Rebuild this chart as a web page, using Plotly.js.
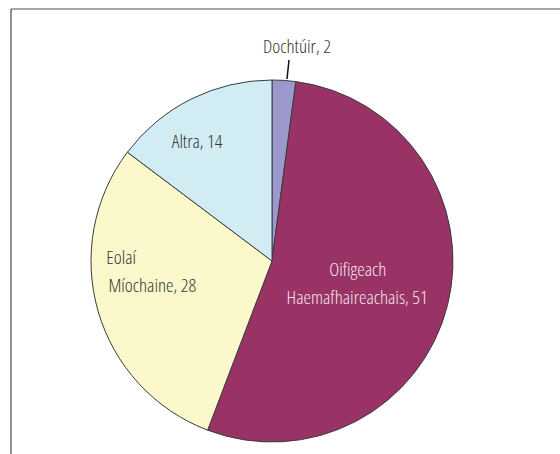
<!DOCTYPE html>
<html>
<head>
<meta charset="utf-8">
<script src="https://cdn.plot.ly/plotly-3.0.1.min.js"></script>
<style>
  html, body { margin: 0; padding: 0; background: #fff; }
  #chart { width: 560px; height: 454px; }
  /* condensed face, like the original print font */
  #chart text { font-stretch: condensed !important; }
</style>
</head>
<body>
<div id="chart"></div>
<script>
// values, clockwise from 12 o'clock
const labels = ['Dochtúir', 'Oifigeach Haemafhaireachais', 'Eolaí Míochaine', 'Altra'];
const values = [2, 51, 28, 14];
const colors = ['#9b98cc', '#993366', '#fbf8cc', '#d2ecf3'];

// label lines (the value goes after the last line)
const labelLines = [
  ['Dochtúir'],
  ['Oifigeach', 'Haemafhaireachais'],
  ['Eolaí', 'Míochaine'],
  ['Altra']
];

const W = 560, H = 454;
const px = x => x / W;
const py = y => 1 - y / H;

const font = 'Open Sans, sans-serif';

// where each line of a label is centred (pixel coords)
const labelSpots = [
  { x: [297], y: [46], color: '#363636' },
  { x: [357, 357], y: [269, 297], color: '#f3e3ea' },
  { x: [121, 152], y: [257, 285], color: '#363636' },
  { x: [197], y: [141], color: '#363636' }
];

const annotations = [];
labelLines.forEach((lines, i) => {
  const spot = labelSpots[i];
  lines.forEach((line, j) => {
    const last = j === lines.length - 1;
    annotations.push({
      xref: 'paper', yref: 'paper',
      x: px(spot.x[j]), y: py(spot.y[j]),
      xanchor: 'center', yanchor: 'middle',
      text: last ? line + ', ' + values[i] : line,
      showarrow: false,
      font: { family: font, size: 19, weight: 350, color: spot.color }
    });
  });
});

const trace = {
  type: 'pie',
  labels: labels,
  values: values,
  sort: false,
  direction: 'clockwise',
  rotation: 0,
  textinfo: 'none',
  hoverinfo: 'label+value',
  marker: { colors: colors, line: { color: '#3c3c3c', width: 1 } },
  domain: { x: [px(272 - 181), px(272 + 181)], y: [py(261 + 181), py(261 - 181)] },
  showlegend: false
};

const layout = {
  width: W, height: H,
  margin: { l: 0, r: 0, t: 0, b: 0 },
  paper_bgcolor: '#fff',
  showlegend: false,
  annotations: annotations,
  shapes: [
    // frame (only top and left edges show)
    { type: 'line', xref: 'paper', yref: 'paper', x0: px(11), x1: 1, y0: py(9), y1: py(9),
      line: { color: '#8a8a8a', width: 1.5 } },
    { type: 'line', xref: 'paper', yref: 'paper', x0: px(11), x1: px(11), y0: py(9), y1: 0,
      line: { color: '#222', width: 1 } },
    // leader line for the small slice
    { type: 'line', xref: 'paper', yref: 'paper', x0: px(289), x1: px(287), y0: py(60), y1: py(79),
      line: { color: '#111', width: 1.5 } }
  ]
};

Plotly.newPlot('chart', [trace], layout, { displayModeBar: false, staticPlot: true });
</script>
</body>
</html>
